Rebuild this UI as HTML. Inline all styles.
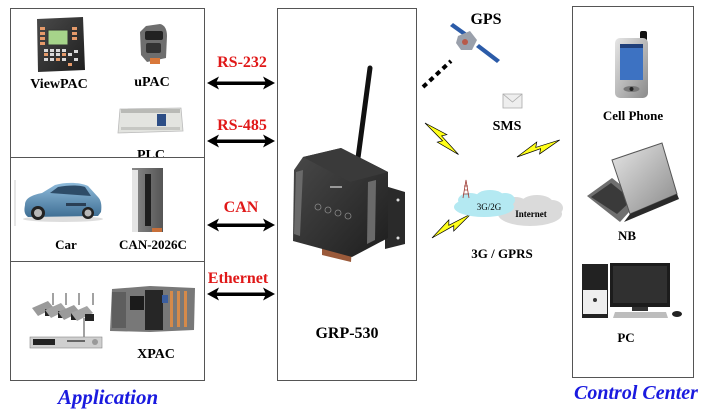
<!DOCTYPE html>
<html><head><meta charset="utf-8">
<style>
html,body{margin:0;padding:0;background:#fff;}
svg{display:block;}
text{font-family:"Liberation Serif","Times New Roman",serif;font-weight:bold;}
</style></head>
<body>
<svg width="713" height="414" viewBox="0 0 713 414" xmlns="http://www.w3.org/2000/svg">
<defs>
<linearGradient id="gSil" x1="0" y1="0" x2="1" y2="1"><stop offset="0" stop-color="#e6e6e6"/><stop offset="1" stop-color="#8a8a8a"/></linearGradient>
<linearGradient id="gDark" x1="0" y1="0" x2="1" y2="1"><stop offset="0" stop-color="#4a4a4a"/><stop offset="1" stop-color="#1e1e1e"/></linearGradient>
<linearGradient id="gCar" x1="0" y1="0" x2="0" y2="1"><stop offset="0" stop-color="#8fbbdb"/><stop offset="1" stop-color="#3f6f94"/></linearGradient>
<linearGradient id="gMod" x1="0" y1="0" x2="1" y2="0"><stop offset="0" stop-color="#8a8a8a"/><stop offset="1" stop-color="#555"/></linearGradient>
<g id="bolt" stroke="#000" stroke-width="0.7" fill="#ffff1a" stroke-linejoin="miter">
<path d="M0,0 L24,-6 L21,-1.5 L46,1 L22,6 L25,1.5 Z"/>
</g>
<g id="arr">
<rect x="214" y="81.5" width="54" height="3.5"/>
<path d="M207,83 L219,76.5 L216,83 L219,89.5 Z"/>
<path d="M275,83 L263,76.5 L266,83 L263,89.5 Z"/>
</g>
</defs>
<rect width="713" height="414" fill="#fff"/>

<!-- LEFT BOX -->
<rect x="10.5" y="8.5" width="194" height="372" fill="#fff" stroke="#555" stroke-width="1"/>

<!-- ViewPAC -->
<path d="M37,19 L83,17 L85,70 L38,72 Z" fill="url(#gDark)"/>
<rect x="48" y="30" width="20" height="15" fill="#a6d48a" stroke="#333" stroke-width="1"/>
<g fill="#e59a6a">
<rect x="40" y="27" width="5" height="3"/><rect x="40" y="32" width="5" height="3"/><rect x="40" y="37" width="5" height="3"/><rect x="40" y="42" width="5" height="3"/>
<rect x="72" y="27" width="5" height="3"/><rect x="72" y="32" width="5" height="3"/><rect x="72" y="37" width="5" height="3"/>
<rect x="44" y="53" width="4" height="3"/><rect x="56" y="58" width="4" height="3"/><rect x="62" y="53" width="4" height="3"/><rect x="68" y="63" width="4" height="3"/>
</g>
<g fill="#d8d8d8">
<rect x="44" y="49" width="4" height="3"/><rect x="50" y="49" width="4" height="3"/><rect x="56" y="49" width="4" height="3"/><rect x="62" y="49" width="4" height="3"/>
<rect x="50" y="53" width="4" height="3"/><rect x="56" y="53" width="4" height="3"/><rect x="68" y="53" width="4" height="3"/>
<rect x="44" y="58" width="4" height="3"/><rect x="50" y="58" width="4" height="3"/><rect x="62" y="58" width="4" height="3"/>
<rect x="74" y="50" width="4" height="3"/><rect x="74" y="58" width="4" height="3"/>
</g>
<text x="59" y="88" font-size="14" text-anchor="middle">ViewPAC</text>

<!-- uPAC -->
<path d="M146,26 L160,24 C165,25 167,30 167,36 L166,58 L147,62 L141,55 L140,32 Z" fill="#6e6e6e"/>
<rect x="145" y="31" width="18" height="9" rx="2" fill="#222"/>
<rect x="146" y="43" width="15" height="10" rx="2" fill="#333"/>
<rect x="150" y="58" width="10" height="6" fill="#d9783a"/>
<text x="152" y="86" font-size="14" text-anchor="middle">uPAC</text>

<!-- PLC -->
<path d="M120,109 L181,108 L183,131 L118,133 Z" fill="#e3e4e0" stroke="#bbb" stroke-width="0.8"/>
<rect x="121" y="109" width="59" height="4" fill="#b9bab6"/>
<rect x="121" y="127" width="59" height="3" fill="#c6c7c3"/>
<rect x="157" y="114" width="9" height="12" fill="#2d4e86"/>
<text x="151" y="159" font-size="14" text-anchor="middle">PLC</text>

<!-- middle panel -->
<rect x="10.5" y="157.5" width="194" height="104" fill="#fff" stroke="#555" stroke-width="1"/>
<line x1="15" y1="180" x2="15" y2="226" stroke="#ccc" stroke-width="1"/>
<!-- Car -->
<ellipse cx="63" cy="219" rx="40" ry="3" fill="#ddd"/>
<path d="M25,205 C25,198 32,195 42,193 L55,185 C65,182 80,182 88,186 L98,197 C101,200 102,205 101,212 L98,216 L28,217 C24,214 24,210 25,205 Z" fill="url(#gCar)"/>
<path d="M50,193 L58,187 C68,185 80,185 85,187 L91,196 Z" fill="#2e4c68"/>
<rect x="66" y="203" width="20" height="3" fill="#2a3f55"/>
<circle cx="38" cy="213" r="7" fill="#222"/><circle cx="38" cy="213" r="4" fill="#b7b7b7"/>
<circle cx="88" cy="213" r="6" fill="#222"/><circle cx="88" cy="213" r="3.5" fill="#b7b7b7"/>
<text x="66" y="249" font-size="13" text-anchor="middle">Car</text>
<!-- CAN-2026C -->
<rect x="132" y="168" width="31" height="64" fill="url(#gMod)"/>
<rect x="132" y="170" width="6" height="62" fill="#e4e4e4"/>
<rect x="145" y="174" width="6" height="52" fill="#1e1e1e"/>
<rect x="152" y="228" width="10" height="4" fill="#c8703a"/>
<text x="153" y="249" font-size="13" text-anchor="middle">CAN-2026C</text>

<!-- bottom panel -->
<rect x="10.5" y="261.5" width="194" height="119" fill="#fff" stroke="#555" stroke-width="1"/>
<!-- cameras -->
<g stroke="#444" stroke-width="1">
<line x1="53" y1="293" x2="53" y2="305"/><line x1="66" y1="293" x2="66" y2="305"/><line x1="79" y1="293" x2="79" y2="305"/><line x1="93" y1="293" x2="93" y2="305"/>
<line x1="84" y1="318" x2="84" y2="338"/>
</g>
<g>
<path d="M32,308 L48,301 L54,308 L38,316 Z" fill="#9a9a9a"/><rect x="45" y="309" width="8" height="7" fill="#222"/>
<path d="M45,310 L61,303 L67,310 L51,318 Z" fill="#a4a4a4"/><rect x="58" y="311" width="8" height="7" fill="#222"/>
<path d="M58,312 L74,305 L80,312 L64,320 Z" fill="#9a9a9a"/><rect x="71" y="313" width="8" height="7" fill="#222"/>
<path d="M71,313 L87,306 L93,313 L77,321 Z" fill="#a4a4a4"/><rect x="85" y="314" width="9" height="7" fill="#222"/>
</g>
<rect x="30" y="337" width="72" height="11" fill="#cfcfcf" stroke="#888" stroke-width="0.6"/>
<rect x="33" y="339" width="22" height="6" fill="#222"/>
<rect x="67" y="340" width="18" height="2" fill="#666"/>
<circle cx="95" cy="342" r="3" fill="#999"/>
<!-- XPAC -->
<path d="M112,289 L150,286 L195,288 L194,330 L150,332 L110,331 Z" fill="#787878"/>
<rect x="112" y="292" width="14" height="36" fill="#5e5e5e"/>
<rect x="130" y="296" width="14" height="14" fill="#1b1b1b"/>
<rect x="145" y="290" width="18" height="40" fill="#262626"/>
<rect x="162" y="295" width="6" height="8" fill="#3a5ea0"/>
<rect x="170" y="291" width="3" height="36" fill="#d58a4a"/>
<rect x="177" y="291" width="3" height="36" fill="#d58a4a"/>
<rect x="184" y="291" width="3" height="36" fill="#d58a4a"/>
<text x="156" y="358" font-size="14" text-anchor="middle">XPAC</text>

<text x="108" y="404" font-size="21" font-style="italic" fill="#1a1adf" text-anchor="middle">Application</text>

<!-- ARROWS & LABELS -->
<g fill="#000">
<use href="#arr"/>
<use href="#arr" y="58"/>
<use href="#arr" y="142"/>
<use href="#arr" y="211"/>
</g>
<g fill="#e01818" font-size="16" text-anchor="middle">
<text x="242" y="67">RS-232</text>
<text x="242" y="130">RS-485</text>
<text x="241" y="212">CAN</text>
<text x="238" y="283">Ethernet</text>
</g>

<!-- MIDDLE BOX -->
<rect x="277.5" y="8.5" width="139" height="372" fill="#fff" stroke="#555" stroke-width="1"/>
<!-- device -->
<line x1="370" y1="68" x2="358" y2="158" stroke="#111" stroke-width="5" stroke-linecap="round"/>
<path d="M385,186 L405,192 L405,244 L385,249 Z" fill="#2a2a2a"/>
<circle cx="398" cy="200" r="1.5" fill="#ddd"/><circle cx="398" cy="238" r="1.5" fill="#ddd"/>
<path d="M322,240 L352,247 L351,262 L322,255 Z" fill="#9a5a3a"/>
<path d="M303,157 L341,148 L388,172 L388,238 L352,257 L293,241 L294,170 Z" fill="url(#gDark)"/>
<path d="M303,157 L341,148 L388,172 L350,182 Z" fill="#3a3a3a"/>
<path d="M296,172 L303,170 L300,236 L294,234 Z" fill="#6a6a6a"/>
<path d="M368,182 L376,180 L375,240 L367,244 Z" fill="#6a6a6a"/>
<g fill="none" stroke="#888" stroke-width="0.8">
<circle cx="318" cy="207" r="3"/><circle cx="328" cy="210" r="3"/><circle cx="338" cy="213" r="3"/><circle cx="348" cy="216" r="3"/>
</g>
<rect x="330" y="186" width="12" height="2" fill="#999"/>
<text x="347" y="338" font-size="16" text-anchor="middle">GRP-530</text>

<!-- GPS -->
<text x="486" y="24" font-size="16" text-anchor="middle">GPS</text>
<path d="M450,26 L453,23 L467,33 L464,36 Z" fill="#2b5ba8"/>
<path d="M476,47 L479,44 L500,60 L497,63 Z" fill="#2b5ba8"/>
<path d="M458,36 L470,31 L477,40 L472,50 L461,50 L456,43 Z" fill="#9aa0ab"/>
<circle cx="465" cy="42" r="3" fill="#b85a4a"/>
<line x1="423" y1="87" x2="451" y2="61" stroke="#000" stroke-width="4" stroke-dasharray="5 4"/>

<!-- SMS -->
<path d="M503,94 L522,94 L522,108 L503,108 Z" fill="#eeeeee" stroke="#aaa" stroke-width="0.8"/>
<path d="M503,94 L512.5,102 L522,94" fill="none" stroke="#aaa" stroke-width="0.8"/>
<text x="507" y="130" font-size="14" text-anchor="middle">SMS</text>

<!-- lightning -->
<use href="#bolt" transform="translate(425,123) rotate(42)"/>
<use href="#bolt" transform="translate(517,157) rotate(-23)"/>
<use href="#bolt" transform="translate(432,238) rotate(-33)"/>

<!-- clouds -->
<g fill="#dadada">
<ellipse cx="530" cy="214" rx="32" ry="12"/>
<ellipse cx="515" cy="206" rx="14" ry="9"/>
<ellipse cx="537" cy="203" rx="16" ry="8"/>
<ellipse cx="552" cy="208" rx="11" ry="8"/>
</g>
<g fill="#b4e9f2">
<ellipse cx="484" cy="207" rx="30" ry="10"/>
<ellipse cx="470" cy="200" rx="12" ry="7"/>
<ellipse cx="490" cy="197" rx="14" ry="7"/>
<ellipse cx="505" cy="200" rx="10" ry="7"/>
</g>
<g stroke="#a0413a" stroke-width="0.8" fill="none">
<path d="M463,198 L466,180 L469,198 M464,190 L468,190 M464,186 L468,186 M463,194 L469,194"/>
</g>
<text x="489" y="210" font-size="9" text-anchor="middle" style="font-weight:normal">3G/2G</text>
<text x="531" y="217" font-size="9" text-anchor="middle">Internet</text>
<text x="502" y="258" font-size="13" text-anchor="middle">3G / GPRS</text>

<!-- RIGHT BOX -->
<rect x="572.5" y="6.5" width="121" height="371" fill="#fff" stroke="#555" stroke-width="1"/>
<!-- cell phone -->
<rect x="640" y="31" width="7" height="11" rx="2" fill="#111"/>
<rect x="615" y="38" width="33" height="60" rx="5" fill="url(#gSil)"/>
<rect x="620" y="44" width="23" height="36" fill="#3d72c2"/>
<rect x="620" y="44" width="23" height="4" fill="#1f3f7a"/>
<ellipse cx="631.5" cy="89" rx="8" ry="3" fill="#777"/>
<circle cx="631.5" cy="89" r="2" fill="#222"/>
<text x="633" y="120" font-size="13" text-anchor="middle">Cell Phone</text>
<!-- laptop -->
<path d="M587,196 L612,178 L640,200 L620,222 Z" fill="#6f6f6f"/>
<path d="M591,197 L611,183 L632,200 L617,214 Z" fill="#3a3a3a"/>
<path d="M612,160 L662,143 L677,194 L630,214 Z" fill="url(#gSil)" stroke="#555" stroke-width="1"/>
<path d="M630,214 L677,194 L679,199 L624,222 Z" fill="#2a2a2a"/>
<text x="627" y="240" font-size="13" text-anchor="middle">NB</text>
<!-- PC -->
<rect x="582" y="264" width="26" height="54" fill="#222"/>
<rect x="583" y="290" width="24" height="24" fill="#eeeeee"/>
<circle cx="595" cy="300" r="2" fill="#333"/>
<rect x="610" y="263" width="60" height="44" fill="#1c1c1c"/>
<rect x="613" y="266" width="54" height="37" fill="#303030"/>
<rect x="632" y="307" width="16" height="4" fill="#333"/>
<path d="M615,312 L666,312 L668,318 L613,318 Z" fill="#bdbdbd"/>
<ellipse cx="677" cy="314" rx="5" ry="3" fill="#222"/>
<text x="626" y="342" font-size="13" text-anchor="middle">PC</text>

<text x="636" y="399" font-size="20" font-style="italic" fill="#1a1adf" text-anchor="middle">Control Center</text>
</svg>
</body></html>
